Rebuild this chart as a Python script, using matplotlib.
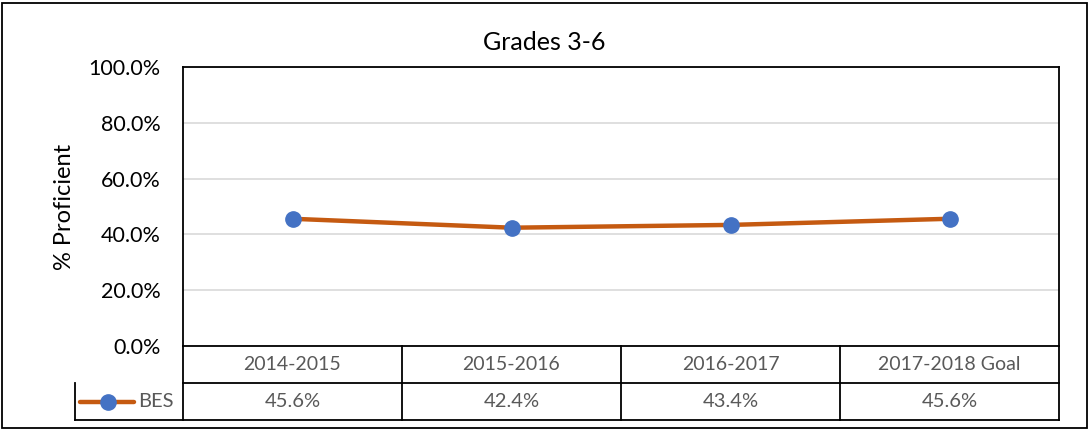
import matplotlib.pyplot as plt
import matplotlib.ticker as mtick
from matplotlib.lines import Line2D
from matplotlib.patches import Rectangle

years = ['2014-2015', '2015-2016', '2016-2017', '2017-2018 Goal']
bes = [45.6, 42.4, 43.4, 45.6]
series_name = 'BES'

plt.rcParams['font.family'] = ['Lato', 'DejaVu Sans']

fig = plt.figure(figsize=(10.89, 4.30), dpi=100)
W, H = 1089, 430
# plot area in pixels: left 183, right 1059, top 67, bottom 346
ax = fig.add_axes([183 / W, 1 - 346 / H, (1059 - 183) / W, (346 - 67) / H])

x = list(range(len(years)))
ax.plot(x, bes, color='#C55A11', lw=3.2, marker='o', ms=11,
        mfc='#4472C4', mec='#4472C4', zorder=3, solid_capstyle='round')

ax.set_xlim(-0.5, len(years) - 0.5)
ax.set_ylim(0, 100)
ax.set_yticks(range(0, 101, 20))
ax.yaxis.set_major_formatter(mtick.FuncFormatter(lambda v, p: f'{v:.1f}%'))
ax.tick_params(axis='y', length=0, labelsize=15.5, pad=16, colors='black')
ax.set_xticks([])
ax.grid(axis='y', color='#D9D9D9', lw=1.2)
ax.set_axisbelow(True)
for s in ax.spines.values():
    s.set_color('black')
    s.set_linewidth(1.3)
ax.set_ylabel('% Proficient', fontsize=17, labelpad=10)
# title is centred on the whole chart, not on the plot area
fig.text(0.5, 1 - 43 / H, 'Grades 3-6', fontsize=18, ha='center', va='center')

# data table below the axis
row_h = 37 / 279
tr = ax.get_xaxis_transform()
text_col = '#595959'
left = -0.5 - 108 / 219
kw = dict(color='black', lw=1.3, transform=tr, clip_on=False)
ax.plot([-0.5, len(years) - 0.5], [-row_h, -row_h], **kw)
ax.plot([left, len(years) - 0.5], [-2 * row_h, -2 * row_h], **kw)
ax.plot([left, left], [-row_h, -2 * row_h], **kw)
ax.plot([len(years) - 0.5] * 2, [0, -2 * row_h], **kw)
for i in range(len(years)):
    ax.plot([i - 0.5, i - 0.5], [0, -2 * row_h], **kw)
    ax.text(i, -0.5 * row_h, years[i], transform=tr, ha='center', va='center',
            fontsize=14, color=text_col)
    ax.text(i, -1.5 * row_h, f'{bes[i]:.1f}%', transform=tr, ha='center', va='center',
            fontsize=14.5, color=text_col)

# legend key in the table
ax.add_line(Line2D([left + 0.025, left + 0.27], [-1.5 * row_h] * 2, color='#C55A11', lw=3.2,
                   transform=tr, clip_on=False, solid_capstyle='round'))
ax.add_line(Line2D([left + 0.15], [-1.5 * row_h], marker='o', ms=11, mfc='#4472C4', mec='#4472C4',
                   transform=tr, clip_on=False))
ax.text(left + 0.29, -1.5 * row_h, series_name, transform=tr, ha='left', va='center',
        fontsize=14.5, color=text_col)

# outer chart frame
fig.add_artist(Rectangle((2 / W, 2 / H), 1085 / W, 425 / H, transform=fig.transFigure,
                         fill=False, edgecolor='black', lw=1.3))

fig.savefig('out.png', dpi=100)
